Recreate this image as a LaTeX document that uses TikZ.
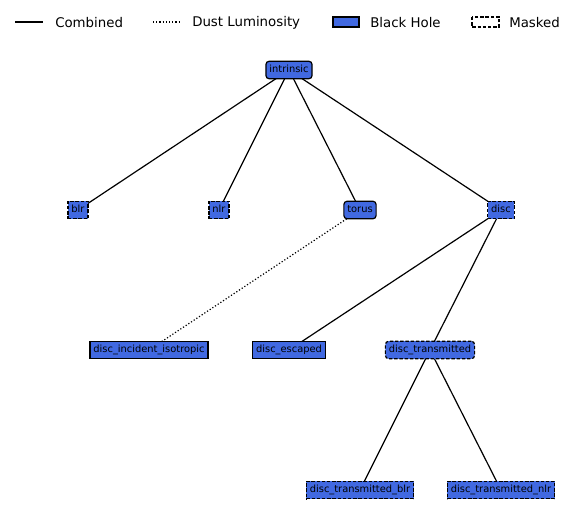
\documentclass[tikz,border=0pt]{standalone}
\usepackage{fontspec}
\setmainfont{DejaVu Sans}
\usetikzlibrary{backgrounds}
\definecolor{bh}{HTML}{4169E1}
\tikzset{
  nd/.style={draw=black, fill=bh, line width=0.9pt, font=\fontsize{7.4}{8}\selectfont,
    inner xsep=2.6pt, inner ysep=3pt, text height=5.6pt, text depth=1.6pt},
  rnd/.style={nd, rounded corners=2.5pt},
  msk/.style={dash pattern=on 2.6pt off 1.3pt},
  edge/.style={line width=0.9pt},
  dust/.style={line width=0.9pt, dash pattern=on 0.9pt off 1.5pt},
  leg/.style={font=\fontsize{10}{12}\selectfont, anchor=west, inner sep=0pt}
}
\begin{document}
\begin{tikzpicture}[x=0.75pt,y=-0.75pt]
\useasboundingbox (0,0) rectangle (578,521);
% legend
\coordinate (l1a) at (15,22); \coordinate (l1b) at (43,22);
\draw[edge] (l1a) -- (l1b);
\node[leg] (t1) at (55,22.5) {Combined};
\coordinate (l2a) at (153,22); \coordinate (l2b) at (181,22);
\draw[dust] (l2a) -- (l2b);
\node[leg] (t2) at (192,22.5) {Dust Luminosity};
\draw[fill=bh, line width=0.9pt] (333,17) rectangle (359,27);
\node[leg] (t3) at (370,22.5) {Black Hole};
\draw[fill=white, line width=0.9pt, msk] (472,17) rectangle (499,27);
\node[leg] (t4) at (509,22.5) {Masked};
% nodes
\node[rnd] (intrinsic) at (289,70) {intrinsic};
\node[nd, msk] (blr) at (78,210) {blr};
\node[nd, msk] (nlr) at (219,210) {nlr};
\node[rnd] (torus) at (360,210) {torus};
\node[nd, msk] (disc) at (501,210) {disc};
\node[nd] (dii) at (149,350) {disc\_incident\_isotropic};
\node[nd] (desc) at (289,350) {disc\_escaped};
\node[rnd, msk] (dtr) at (430,350) {disc\_transmitted};
\node[nd, msk] (dtb) at (360,490) {disc\_transmitted\_blr};
\node[nd, msk] (dtn) at (501,490) {disc\_transmitted\_nlr};
% edges
\begin{scope}[on background layer]
\draw[edge] (intrinsic.center) -- (blr.center);
\draw[edge] (intrinsic.center) -- (nlr.center);
\draw[edge] (intrinsic.center) -- (torus.center);
\draw[edge] (intrinsic.center) -- (disc.center);
\draw[dust] (torus.center) -- (dii.center);
\draw[edge] (disc.center) -- (desc.center);
\draw[edge] (disc.center) -- (dtr.center);
\draw[edge] (dtr.center) -- (dtb.center);
\draw[edge] (dtr.center) -- (dtn.center);
\end{scope}
\end{tikzpicture}
\end{document}
